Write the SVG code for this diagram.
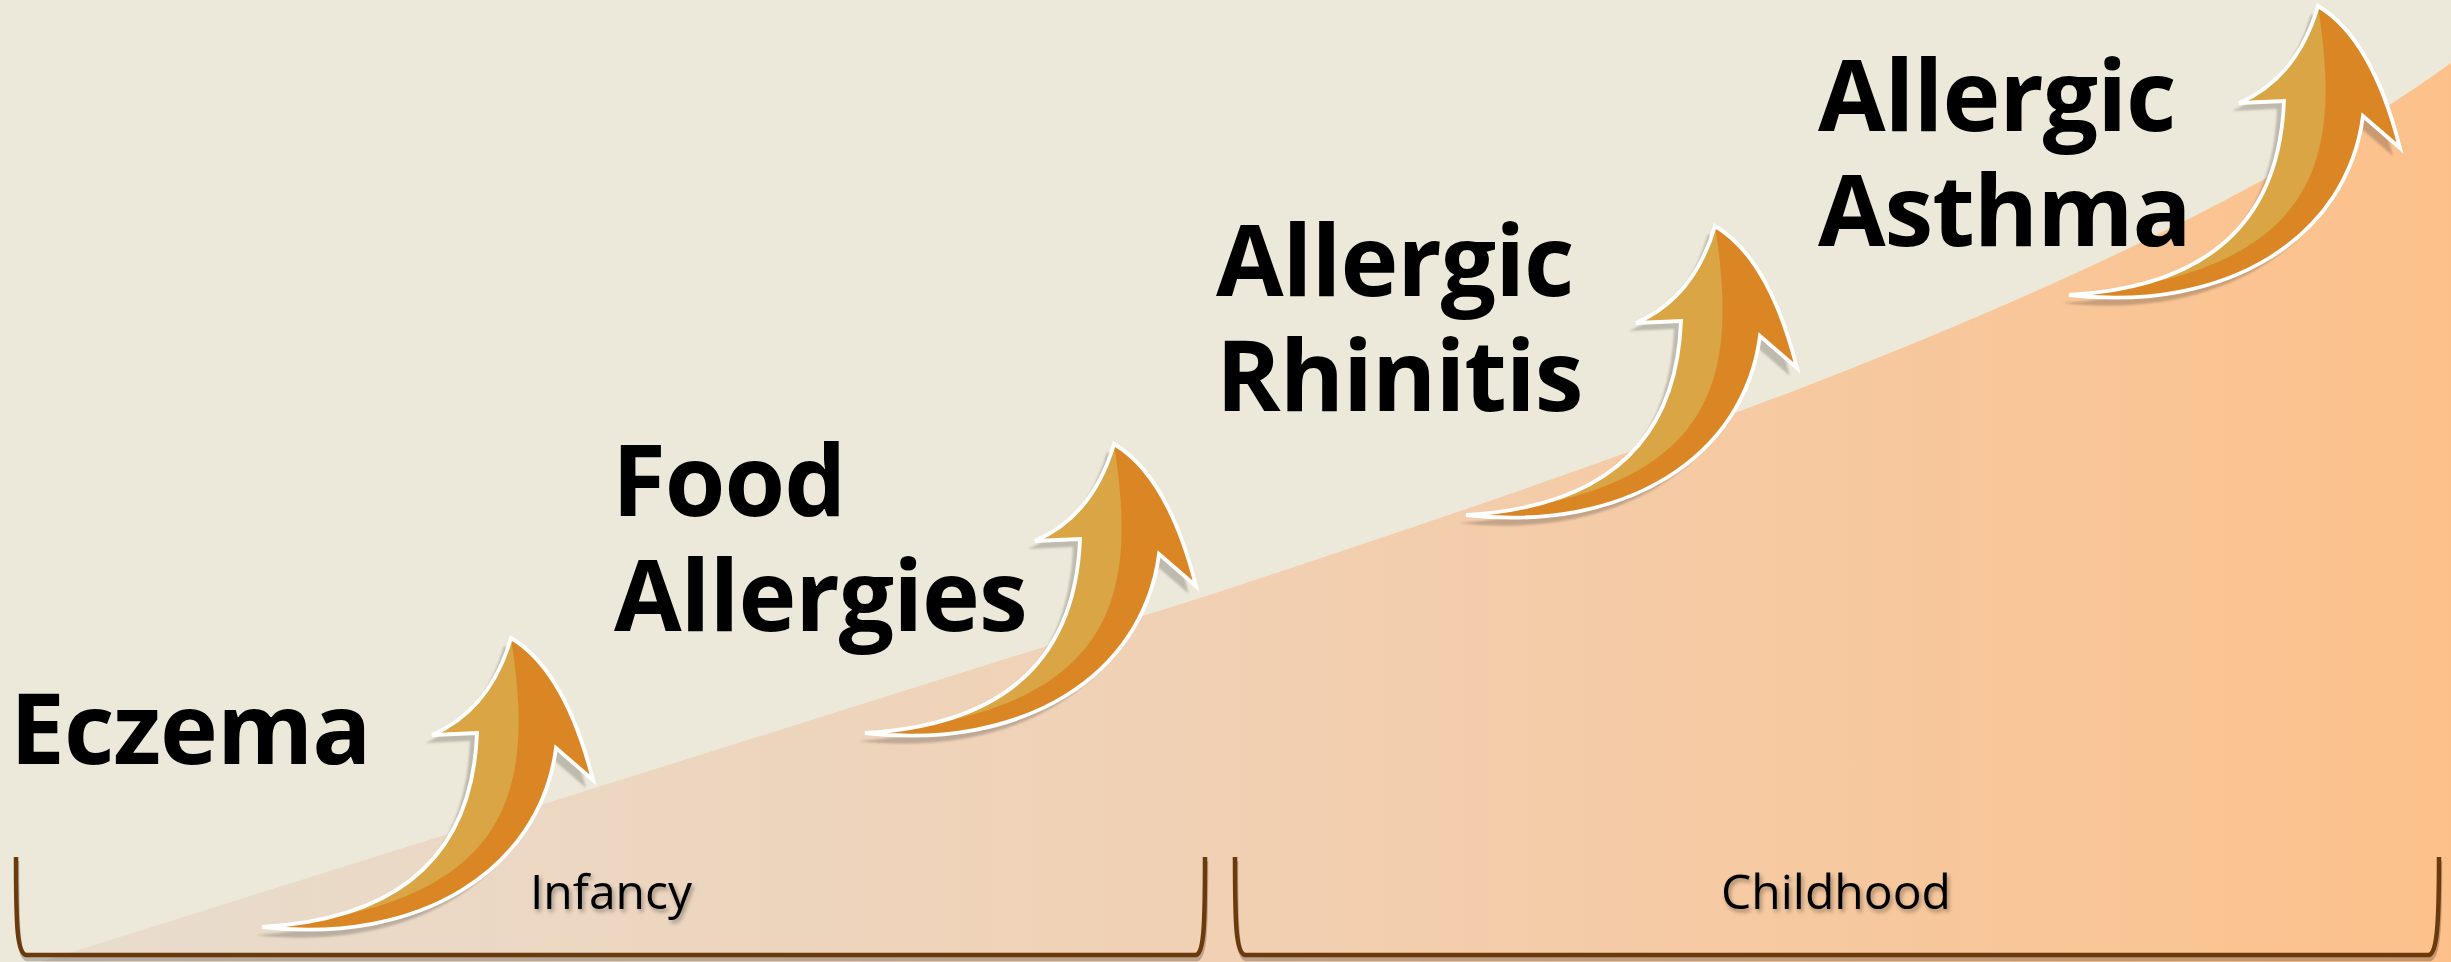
<svg xmlns="http://www.w3.org/2000/svg" xmlns:xlink="http://www.w3.org/1999/xlink" width="2451" height="962" viewBox="0 0 2451 962">
<style>
.lbl{font-family:"Open Sans","Liberation Sans",sans-serif;font-weight:700;font-size:98px;letter-spacing:-1px;fill:#000}
.per{font-family:"Open Sans","Liberation Sans",sans-serif;font-weight:400;font-size:48px;fill:#000;text-anchor:middle}
.br{fill:none;stroke:#6A3A0C;stroke-width:4.5;stroke-linecap:butt}
.brs{fill:none;stroke:#000;stroke-opacity:0.22;stroke-width:4.5}
.ashadow{fill:#000;fill-opacity:0.2}
.adark{fill:#DB8624}
.alight{fill:#D9A545}
.aline{fill:none;stroke:#FFFFFF;stroke-width:3.8;stroke-linejoin:miter}
</style>
<defs>
<linearGradient id="ground" x1="0" y1="0" x2="2451" y2="0" gradientUnits="userSpaceOnUse">
<stop offset="0" stop-color="#E7DDCF"/>
<stop offset="0.5" stop-color="#F1D0B3"/>
<stop offset="1" stop-color="#FCC18B"/>
</linearGradient>
<filter id="soft" x="-10%" y="-10%" width="120%" height="120%">
<feGaussianBlur stdDeviation="1.2"/>
</filter>
<filter id="tshadow" x="-10%" y="-20%" width="120%" height="160%">
<feGaussianBlur in="SourceAlpha" stdDeviation="2"/>
<feOffset dx="2" dy="3" result="b"/>
<feComponentTransfer><feFuncA type="linear" slope="0.35"/></feComponentTransfer>
<feMerge><feMergeNode/><feMergeNode in="SourceGraphic"/></feMerge>
</filter>
<g id="arrow">
<path class="ashadow" filter="url(#soft)" transform="translate(-7,8)" d="M262,927 Q470,915 477,733 L432,735 Q490,710 511,638 Q565,670 593,780 L556,748 C540,870 420,945 262,927 Z"/>
<path class="adark" d="M262,927 Q470,915 477,733 L432,735 Q490,710 511,638 Q565,670 593,780 L556,748 C540,870 420,945 262,927 Z"/>
<path class="alight" d="M262,927 Q470,915 477,733 L432,735 Q490,710 511,638 C535,790 515,905 262,927 Z"/>
<path class="aline" d="M262,927 Q470,915 477,733 L432,735 Q490,710 511,638 Q565,670 593,780 L556,748 C540,870 420,945 262,927 Z"/>
</g>
</defs>

<g id="background">
<rect x="0" y="0" width="2451" height="962" fill="#EDE9DA"/>
<path d="M40,962 L1200,598 C1650,450 2150,280 2451,63 L2451,962 Z" fill="url(#ground)"/>
</g>

<g id="connectors">
<path class="brs" transform="translate(1,4)" d="M16,857 C16,925 17,953 26,955 L1196,955 C1204,953 1205,925 1205,857"/>
<path class="brs" transform="translate(1,4)" d="M1235,857 C1235,925 1236,953 1245,955 L2429,955 C2437,953 2439,925 2439,857"/>
<path class="br" d="M16,857 C16,925 17,953 26,955 L1196,955 C1204,953 1205,925 1205,857"/>
<path class="br" d="M1235,857 C1235,925 1236,953 1245,955 L2429,955 C2437,953 2439,925 2439,857"/>
</g>

<g id="node-eczema">
<use xlink:href="#arrow" href="#arrow"/>
<text class="lbl" x="10" y="764">Eczema</text>
</g>

<g id="node-food-allergies">
<use xlink:href="#arrow" href="#arrow" transform="translate(603,-194)"/>
<text class="lbl"><tspan x="612" y="516">Food</tspan><tspan x="614" y="631">Allergies</tspan></text>
</g>

<g id="node-allergic-rhinitis">
<use xlink:href="#arrow" href="#arrow" transform="translate(1204,-412)"/>
<text class="lbl"><tspan x="1216" y="296">Allergic</tspan><tspan x="1216" y="411">Rhinitis</tspan></text>
</g>

<g id="node-allergic-asthma">
<use xlink:href="#arrow" href="#arrow" transform="translate(1807,-632)"/>
<text class="lbl"><tspan x="1818" y="131">Allergic</tspan><tspan x="1818" y="246">Asthma</tspan></text>
</g>

<g id="node-infancy">
<text class="per" x="611" y="909" filter="url(#tshadow)">Infancy</text>
</g>

<g id="node-childhood">
<text class="per" x="1836" y="909" filter="url(#tshadow)">Childhood</text>
</g>
</svg>
